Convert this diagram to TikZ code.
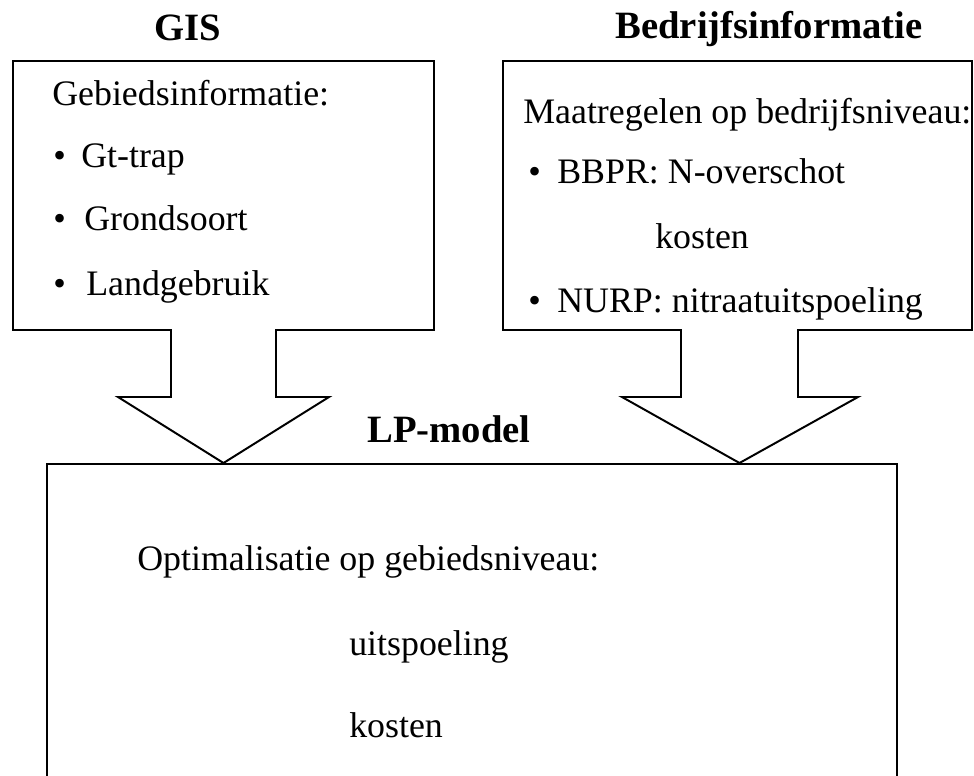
\documentclass[tikz,border=0pt]{standalone}
\usepackage{fontspec}
\setmainfont{Liberation Serif}
\begin{document}
\begin{tikzpicture}[x=0.025cm, y=-0.025cm,
    txt/.style = {anchor=base west, inner sep=0pt, font=\fontsize{25.5}{29}\selectfont},
    head/.style = {anchor=base, inner sep=0pt, font=\fontsize{27.5}{31}\selectfont\bfseries},
    outline/.style = {draw, line width=1.4pt, line join=miter}]
  \useasboundingbox (0,0) rectangle (974,776);

  % titles
  \node[head] (gis) at (188,40) {GIS};
  \node[head] (bedrijf) at (769,38) {Bedrijfsinformatie};
  \node[head] (lp) at (449,442) {LP-model};

  % left box with block arrow
  \draw[outline] (13,61) -- (434,61) -- (434,330) -- (276,330) -- (276,397)
    -- (329,397) -- (223.5,463) -- (118,397) -- (171,397) -- (171,330)
    -- (13,330) -- cycle;

  % right box with block arrow
  \draw[outline] (503,61) -- (972,61) -- (972,330) -- (798,330) -- (798,397)
    -- (858,397) -- (739.5,463) -- (622,397) -- (681,397) -- (681,330)
    -- (503,330) -- cycle;

  % bottom box
  \draw[outline, line width=2.1pt] (47,800) -- (47,464) -- (897,464) -- (897,800);

  % left box text
  \node[txt] (gebied) at (52,105) {Gebiedsinformatie:};
  \node[txt] (b1) at (53,167) {•};
  \node[txt] (gttrap) at (81,167) {Gt-trap};
  \node[txt] (b2) at (53,230) {•};
  \node[txt] (grond) at (84,230) {Grondsoort};
  \node[txt] (b3) at (53,295) {•};
  \node[txt] (land) at (86,295) {Landgebruik};

  % right box text
  \node[txt] (maatr) at (523,123) {Maatregelen op bedrijfsniveau:};
  \node[txt] (b4) at (528,183) {•};
  \node[txt] (bbpr) at (557,183) {BBPR: N-overschot};
  \node[txt] (kosten1) at (655,248) {kosten};
  \node[txt] (b5) at (528,312) {•};
  \node[txt] (nurp) at (557,312) {NURP: nitraatuitspoeling};

  % bottom box text
  \node[txt] (optim) at (137,570) {Optimalisatie op gebiedsniveau:};
  \node[txt] (uitsp) at (349,655) {uitspoeling};
  \node[txt] (kosten2) at (349,737) {kosten};
\end{tikzpicture}
\end{document}
